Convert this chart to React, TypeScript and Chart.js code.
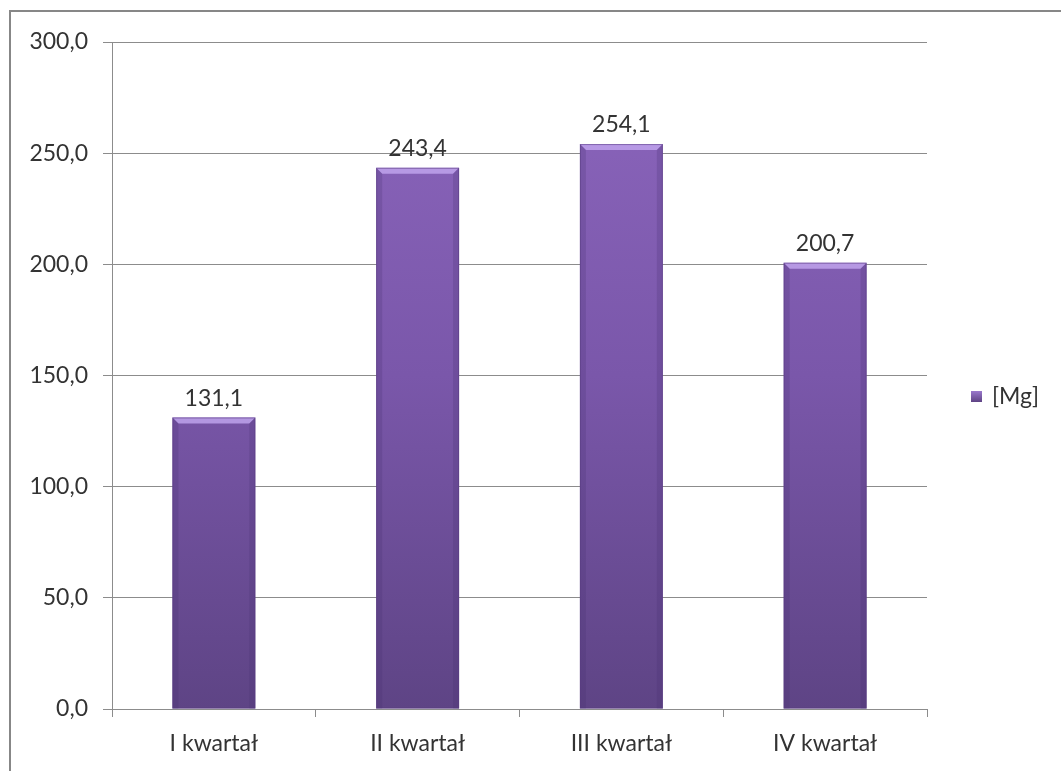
import React, { useEffect, useRef } from "react";
import { Chart, registerables } from "chart.js";

Chart.register(...registerables);

const categories = ["I kwartał", "II kwartał", "III kwartał", "IV kwartał"];
const values = [131.1, 243.4, 254.1, 200.7];
const seriesLabel = "[Mg]";
const yTicks = [0, 50, 100, 150, 200, 250, 300];

const FONT = "Lato, 'Open Sans', sans-serif";
const FSIZE = 23;
const TEXT = "#333333";
const fmt = (v: number) => v.toFixed(1).replace(".", ",");

export default function App() {
  const ref = useRef<HTMLCanvasElement | null>(null);

  useEffect(() => {
    if (!ref.current) return;
    const frame = {
      id: "frame",
      afterDraw(chart: any) {
        const ctx = chart.ctx;
        ctx.save();
        ctx.strokeStyle = "#878787";
        ctx.lineWidth = 2;
        ctx.strokeRect(10, 11, 1200, 1000);
        ctx.restore();
      },
    };
    const bevel = {
      id: "bevel",
      afterDatasetsDraw(chart: any) {
        const ctx = chart.ctx;
        const meta = chart.getDatasetMeta(0);
        ctx.save();
        meta.data.forEach((bar: any, i: number) => {
          const { x, y, base, width } = bar.getProps(["x", "y", "base", "width"], true);
          const l = x - width / 2;
          const r = x + width / 2;
          const b = 6;
          ctx.fillStyle = "rgba(195,168,240,0.8)";
          ctx.beginPath();
          ctx.moveTo(l, y);
          ctx.lineTo(r, y);
          ctx.lineTo(r - b, y + b);
          ctx.lineTo(l + b, y + b);
          ctx.closePath();
          ctx.fill();
          ctx.fillStyle = "rgba(70,45,110,0.22)";
          ctx.beginPath();
          ctx.moveTo(l, y);
          ctx.lineTo(l + b, y + b);
          ctx.lineTo(l + b, base);
          ctx.lineTo(l, base);
          ctx.closePath();
          ctx.fill();
          ctx.beginPath();
          ctx.moveTo(r, y);
          ctx.lineTo(r - b, y + b);
          ctx.lineTo(r - b, base);
          ctx.lineTo(r, base);
          ctx.closePath();
          ctx.fill();
          ctx.strokeStyle = "rgba(90,60,130,0.55)";
          ctx.lineWidth = 1;
          ctx.strokeRect(l + 0.5, y + 0.5, width - 1, base - y - 1);
          ctx.fillStyle = TEXT;
          ctx.font = `${FSIZE}px ${FONT}`;
          ctx.textAlign = "center";
          ctx.textBaseline = "alphabetic";
          ctx.fillText(fmt(values[i]), x, y - 12);
        });
        const lx = 971;
        const ly = 391;
        const g = ctx.createLinearGradient(0, ly, 0, ly + 11);
        g.addColorStop(0, "#9a78cc");
        g.addColorStop(1, "#5e4384");
        ctx.fillStyle = g;
        ctx.fillRect(lx, ly, 11, 11);
        ctx.fillStyle = TEXT;
        ctx.font = `${FSIZE}px ${FONT}`;
        ctx.textAlign = "left";
        ctx.textBaseline = "middle";
        ctx.fillText(chart.data.datasets[0].label, lx + 21, ly + 6);
        ctx.restore();
      },
    };

    const chart = new Chart(ref.current, {
      type: "bar",
      data: {
        labels: categories,
        datasets: [
          {
            label: seriesLabel,
            data: values,
            categoryPercentage: 1,
            barPercentage: 0.407,
            borderWidth: 0,
            backgroundColor: (c: any) => {
              const ca = c.chart.chartArea;
              if (!ca) return "#7a58a8";
              const g = c.chart.ctx.createLinearGradient(0, ca.top, 0, ca.bottom);
              g.addColorStop(0, "#8c66bd");
              g.addColorStop(0.5, "#7a57aa");
              g.addColorStop(1, "#5e4485");
              return g;
            },
          },
        ],
      },
      options: {
        animation: false,
        responsive: false,
        layout: { padding: { left: 0, top: 42, right: 134, bottom: 0 } },
        plugins: {
          legend: { display: false },
          tooltip: { enabled: false },
        },
        scales: {
          x: {
            afterFit: (s: any) => {
              s.height = 62;
            },
            grid: {
              offset: true,
              drawOnChartArea: false,
              drawTicks: true,
              tickLength: 8,
              color: "#8c8c8c",
            },
            border: { color: "#8c8c8c" },
            ticks: {
              color: TEXT,
              font: { family: FONT, size: FSIZE },
              padding: 13,
            },
          },
          y: {
            min: 0,
            max: 300,
            afterFit: (s: any) => {
              s.width = 112;
            },
            afterBuildTicks: (s: any) => {
              s.ticks = yTicks.map((v) => ({ value: v }));
            },
            grid: {
              color: "#8c8c8c",
              tickLength: 9,
              drawTicks: true,
            },
            border: { color: "#8c8c8c" },
            ticks: {
              color: TEXT,
              font: { family: FONT, size: FSIZE },
              padding: 15,
              callback: (v: any) => fmt(Number(v)),
            },
          },
        },
      },
      plugins: [bevel, frame],
    });
    return () => chart.destroy();
  }, []);

  return (
    <div style={{ position: "fixed", left: 0, top: 0, width: 1061, height: 771, background: "#fff" }}>
      <canvas ref={ref} width={1061} height={771} style={{ display: "block" }} />
    </div>
  );
}
